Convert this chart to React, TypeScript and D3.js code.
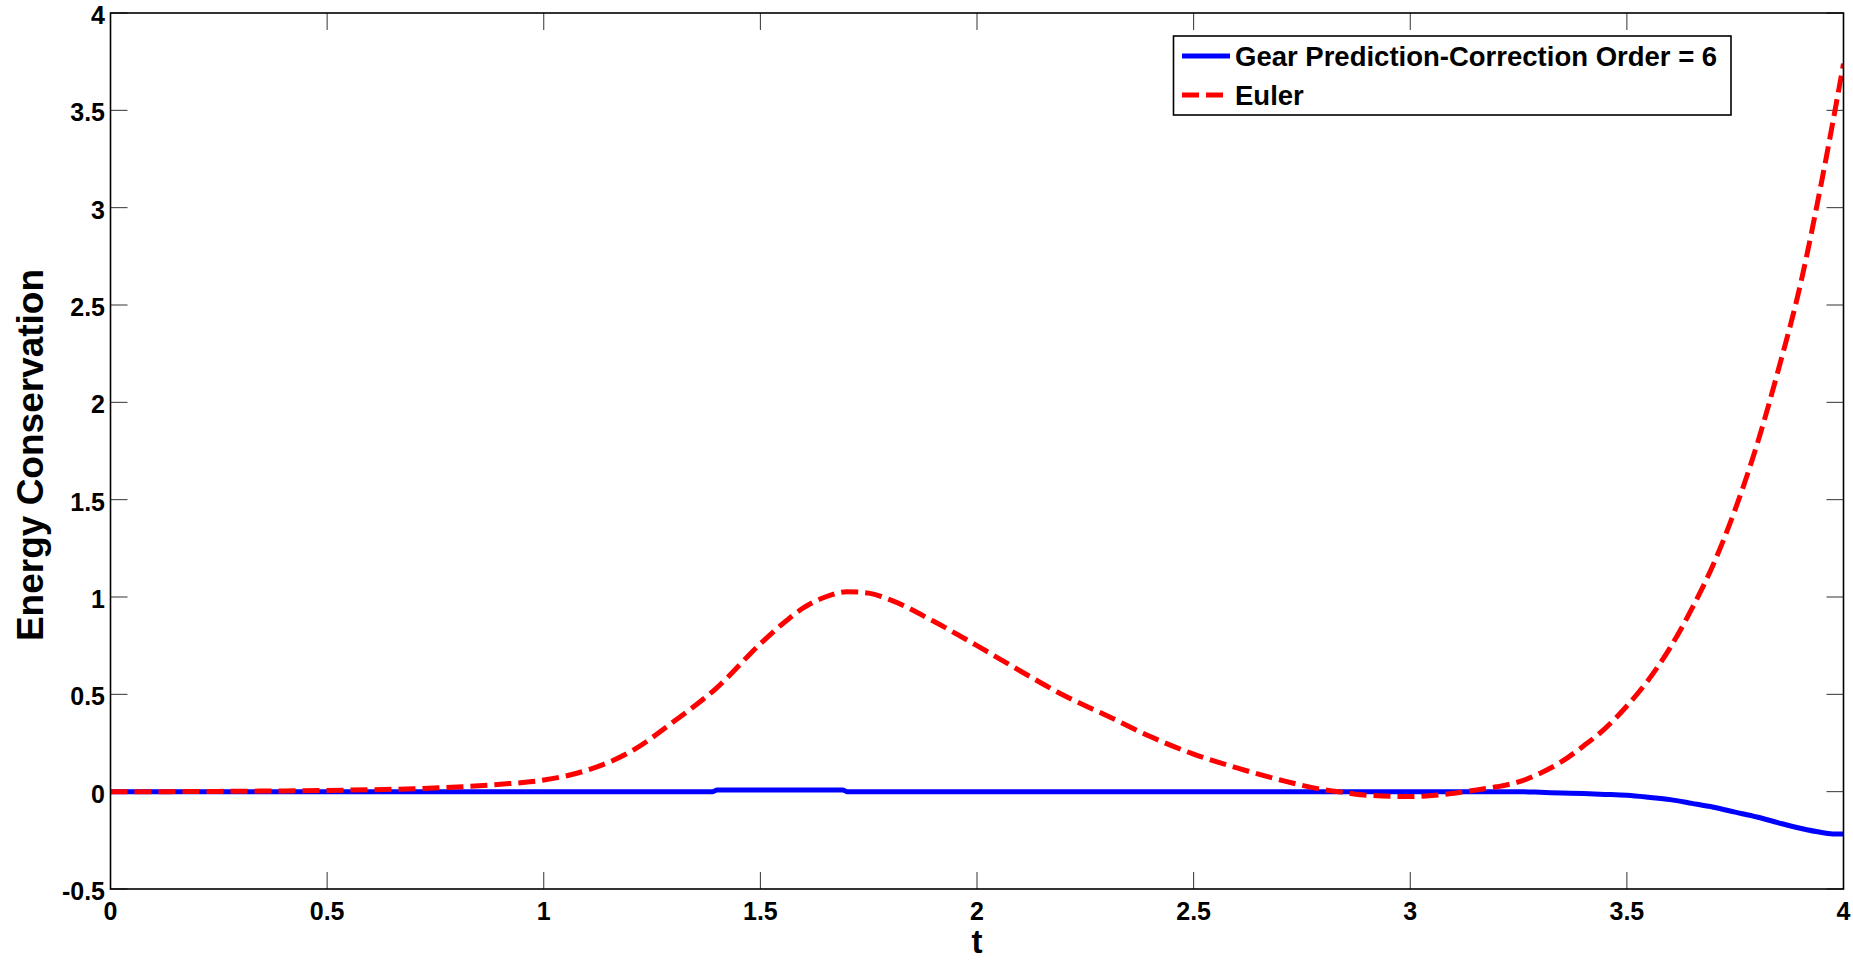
import React from "react";
import * as d3 from "d3";

const W = 1853;
const H = 961;

const xTicks = [0, 0.5, 1, 1.5, 2, 2.5, 3, 3.5, 4];
const yTicks = [-0.5, 0, 0.5, 1, 1.5, 2, 2.5, 3, 3.5, 4];
const xTickLabels = ["0", "0.5", "1", "1.5", "2", "2.5", "3", "3.5", "4"];
const yTickLabels = ["-0.5", "0", "0.5", "1", "1.5", "2", "2.5", "3", "3.5", "4"];

const eulerT = [0, 0.1, 0.2, 0.3, 0.4, 0.5, 0.6, 0.7, 0.8, 0.9, 1.0, 1.1, 1.2, 1.3, 1.4, 1.5, 1.55, 1.6, 1.65, 1.7, 1.75, 1.8, 1.9, 2.0, 2.1, 2.2, 2.3, 2.4, 2.5, 2.6, 2.7, 2.8, 2.85, 2.9, 3.0, 3.05, 3.1, 3.15, 3.2, 3.25, 3.3, 3.35, 3.4, 3.45, 3.5, 3.55, 3.6, 3.65, 3.7, 3.75, 3.8, 3.85, 3.9, 3.95, 4.0];
const eulerE = [0, 0, 0.001, 0.002, 0.004, 0.006, 0.01, 0.015, 0.024, 0.038, 0.06, 0.11, 0.205, 0.36, 0.535, 0.76, 0.86, 0.945, 1.0, 1.027, 1.02, 0.985, 0.875, 0.75, 0.62, 0.495, 0.39, 0.283, 0.193, 0.122, 0.06, 0.01, -0.005, -0.018, -0.025, -0.02, -0.008, 0.008, 0.025, 0.05, 0.095, 0.155, 0.235, 0.325, 0.44, 0.575, 0.74, 0.94, 1.17, 1.45, 1.78, 2.17, 2.6, 3.14, 3.74];

const gearT = [0, 1.39, 1.4, 1.69, 1.7, 3.25, 3.3, 3.35, 3.4, 3.45, 3.5, 3.55, 3.6, 3.65, 3.7, 3.75, 3.8, 3.85, 3.9, 3.95, 3.98, 4.0];
const gearE = [0, 0, 0.008, 0.008, 0, 0, -0.003, -0.007, -0.01, -0.014, -0.019, -0.029, -0.041, -0.06, -0.08, -0.105, -0.13, -0.16, -0.188, -0.21, -0.218, -0.217];

const seriesNames = ["Gear Prediction-Correction Order = 6", "Euler"];

const FONT = "'Liberation Sans', Arial, Helvetica, sans-serif";

export default function App() {
  const left = 110.5, right = 1843.5, top = 13, bottom = 889;
  const x = d3.scaleLinear().domain([0, 4]).range([left, right]);
  const y = d3.scaleLinear().domain([-0.5, 4]).range([bottom, top]);

  const euler = eulerT.map((t, i) => [t, eulerE[i]] as [number, number]);
  const gear = gearT.map((t, i) => [t, gearE[i]] as [number, number]);

  const eulerLine = d3.line<[number, number]>().x(d => x(d[0])).y(d => y(d[1])).curve(d3.curveMonotoneX);
  const gearLine = d3.line<[number, number]>().x(d => x(d[0])).y(d => y(d[1])).curve(d3.curveMonotoneX);

  const tickLen = 17;
  const tickColor = "#333";

  return (
    <svg width={W} height={H} style={{ position: "absolute", left: 0, top: 0, display: "block", background: "#fff" }}>
      <rect x={0} y={0} width={W} height={H} fill="#fff" />
      <defs>
        <clipPath id="plotclip">
          <rect x={left} y={top} width={right - left} height={bottom - top} />
        </clipPath>
      </defs>
      {xTicks.map((t, i) => (
        <g key={"xt" + i}>
          <line x1={x(t)} x2={x(t)} y1={bottom} y2={bottom - tickLen} stroke={tickColor} strokeWidth={1} />
          <line x1={x(t)} x2={x(t)} y1={top} y2={top + tickLen} stroke={tickColor} strokeWidth={1} />
          <text x={x(t)} y={920} textAnchor="middle" fontFamily={FONT} fontWeight="bold" fontSize={25} fill="#000">{xTickLabels[i]}</text>
        </g>
      ))}
      {yTicks.map((v, i) => (
        <g key={"yt" + i}>
          <line x1={left} x2={left + tickLen} y1={y(v)} y2={y(v)} stroke={tickColor} strokeWidth={1} />
          <line x1={right} x2={right - tickLen} y1={y(v)} y2={y(v)} stroke={tickColor} strokeWidth={1} />
          <text x={105} y={y(v) + 11} textAnchor="end" fontFamily={FONT} fontWeight="bold" fontSize={25} fill="#000">{yTickLabels[i]}</text>
        </g>
      ))}
      <g clipPath="url(#plotclip)">
        <path d={gearLine(gear) || ""} fill="none" stroke="#0000FF" strokeWidth={5} />
        <path d={eulerLine(euler) || ""} fill="none" stroke="#FF0000" strokeWidth={5} strokeDasharray="17,7" />
      </g>
      <rect x={left} y={top} width={right - left} height={bottom - top} fill="none" stroke="#000" strokeWidth={1.6} />
      {/* legend */}
      <rect x={1173.5} y={36} width={557.5} height={79} fill="#fff" stroke="#000" strokeWidth={1.6} />
      <line x1={1182} x2={1230} y1={56} y2={56} stroke="#0000FF" strokeWidth={5} />
      <line x1={1182} x2={1230} y1={95} y2={95} stroke="#FF0000" strokeWidth={5} strokeDasharray="17,7" />
      <text x={1235} y={66} fontFamily={FONT} fontWeight="bold" fontSize={27.5} fill="#000">{seriesNames[0]}</text>
      <text x={1235} y={105} fontFamily={FONT} fontWeight="bold" fontSize={27.5} fill="#000">{seriesNames[1]}</text>
      {/* axis titles */}
      <text x={977} y={953} textAnchor="middle" fontFamily={FONT} fontWeight="bold" fontSize={33} fill="#000">t</text>
      <text transform={`translate(43,455) rotate(-90)`} textAnchor="middle" fontFamily={FONT} fontWeight="bold" fontSize={37} fill="#000">Energy Conservation</text>
    </svg>
  );
}
